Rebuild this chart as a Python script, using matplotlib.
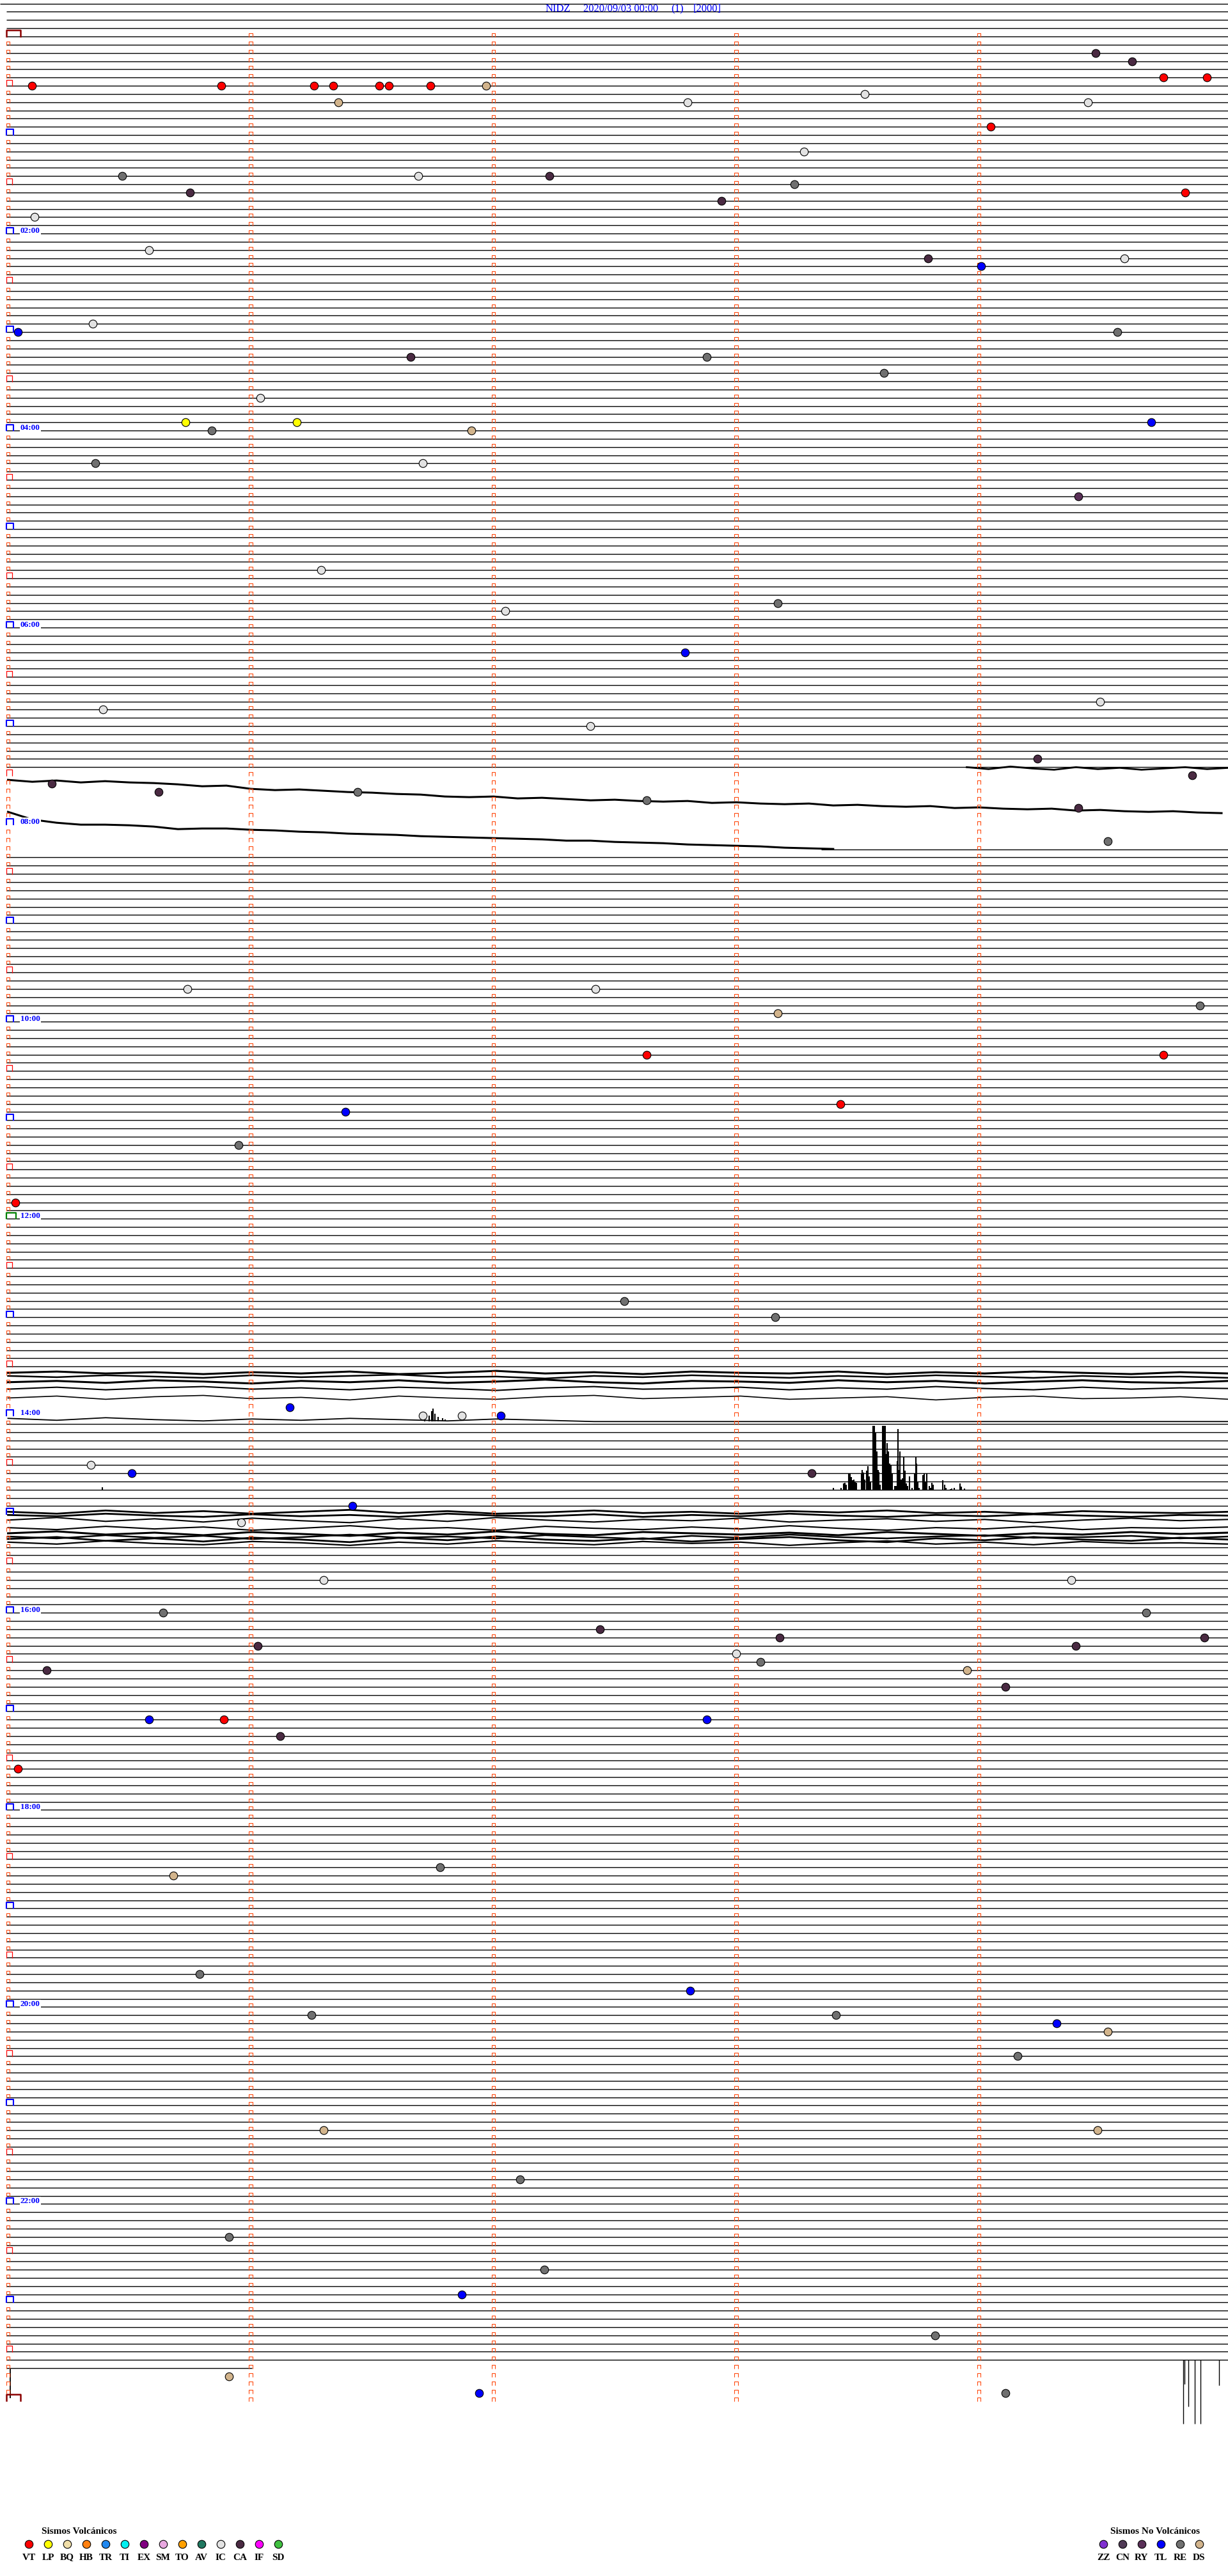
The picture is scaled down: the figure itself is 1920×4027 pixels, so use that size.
############################################### Import modules #########################################################
import matplotlib
matplotlib.use('Agg')
import matplotlib.pyplot as plt
from matplotlib.collections import LineCollection
import numpy as np

############################################### Drum geometry ##########################################################
W, H, DPI = 1920, 4027, 100
X0, COL = 12.5, 379.5     # pixel of minute 0, pixels per minute
Y0, ROW = 57.0, 12.835    # pixel of the 00:00 row, pixels per 5-minute row
px = 1 / COL              # one pixel along x, in minutes
py = 1 / ROW              # one pixel along y, in rows
SERIF = ['Liberation Serif', 'DejaVu Serif']
LW = 1.0                  # flat drum line width

############################################### Data ###################################################################
station = 'NIDZ'
start_label = '2020/09/03 00:00'
channel_label = '(1)'
scale_label = '[2000]'

last_row = 284            # 23:40, still being recorded
last_row_end = 1.005      # minutes drawn in the last row

# events: row (5-min line from 00:00), minute inside the row, type
ev_row = [2, 3, 5, 5, 6, 6, 6, 6, 6, 6, 6, 6, 7, 8, 8, 8, 11, 14, 17, 17, 17, 18, 19, 19, 20, 22, 26, 27, 27, 28,
          35, 36, 36, 39, 39, 41, 44, 47, 47, 47, 48, 48, 52, 52, 56, 65, 69, 70, 75, 81, 82, 84, 88, 90, 91, 92,
          92, 93, 94, 98, 116, 116, 118, 119, 124, 124, 130, 131, 135, 142, 154, 156, 167, 168, 168, 168, 174,
          175, 175, 179, 181, 188, 188, 192, 192, 194, 195, 195, 196, 196, 197, 198, 199, 199, 201, 205, 205,
          205, 207, 211, 223, 224, 236, 238, 241, 241, 242, 243, 246, 255, 255, 261, 268, 272, 275, 280, 285,
          287, 287]
ev_min = [4.48, 4.63, 4.76, 4.94, 0.10, 0.88, 1.26, 1.34, 1.53, 1.57, 1.74, 1.97, 3.53, 1.36, 2.80, 4.45, 4.05,
          3.28, 0.47, 1.69, 2.23, 3.24, 0.75, 4.85, 2.94, 0.11, 0.58, 3.79, 4.60, 4.01, 0.35, 0.04, 4.57, 1.66,
          2.88, 3.61, 1.04, 0.73, 1.19, 4.71, 0.84, 1.91, 0.36, 1.71, 4.41, 1.29, 3.17, 2.05, 2.79, 4.50, 0.39,
          2.40, 4.24, 4.88, 0.18, 0.62, 1.44, 2.63, 4.41, 4.53, 0.74, 2.42, 4.91, 3.17, 2.63, 4.76, 3.43, 1.39,
          0.95, 0.03, 2.54, 3.16, 1.16, 1.71, 1.87, 2.03, 0.34, 0.51, 3.31, 1.42, 0.96, 1.30, 4.38, 0.64, 4.69,
          2.44, 3.18, 4.93, 1.03, 4.40, 3.00, 3.10, 0.16, 3.95, 4.11, 0.58, 0.89, 2.88, 1.12, 0.04, 1.78, 0.68,
          0.79, 2.81, 1.25, 3.41, 4.32, 4.53, 4.16, 1.30, 4.49, 2.11, 0.91, 2.21, 1.87, 3.82, 0.91, 1.94, 4.11]
ev_type = ['CA', 'CA', 'VT', 'VT', 'VT', 'VT', 'VT', 'VT', 'VT', 'VT', 'VT', 'DS', 'IC', 'DS', 'IC', 'IC', 'VT',
           'IC', 'RE', 'IC', 'CA', 'RE', 'CA', 'VT', 'CA', 'IC', 'IC', 'CA', 'IC', 'TL', 'IC', 'TL', 'RE', 'CA',
           'RE', 'RE', 'IC', 'LP', 'LP', 'TL', 'RE', 'DS', 'RE', 'IC', 'RY', 'IC', 'RE', 'IC', 'TL', 'IC', 'IC',
           'IC', 'CA', 'CA', 'CA', 'CA', 'RE', 'RE', 'CA', 'RE', 'IC', 'IC', 'RE', 'DS', 'VT', 'VT', 'VT', 'TL',
           'RE', 'VT', 'RE', 'RE', 'TL', 'IC', 'IC', 'TL', 'IC', 'TL', 'CA', 'TL', 'IC', 'IC', 'IC', 'RE', 'RE',
           'CA', 'CA', 'CA', 'CA', 'CA', 'IC', 'RE', 'CA', 'DS', 'CA', 'TL', 'VT', 'TL', 'CA', 'VT', 'RE', 'DS',
           'RE', 'TL', 'RE', 'RE', 'TL', 'DS', 'RE', 'DS', 'DS', 'RE', 'RE', 'RE', 'TL', 'RE', 'DS', 'TL', 'RE']

volc_codes = ['VT', 'LP', 'BQ', 'HB', 'TR', 'TI', 'EX', 'SM', 'TO', 'AV', 'IC', 'CA', 'IF', 'SD']
volc_colors = ['#FF0000', '#FFFF00', '#F0DEA8', '#FF8010', '#2088F0', '#00F0F0', '#800080', '#E8A8E0',
               '#FFA000', '#207860', '#E2E2E2', '#4A2A42', '#FF00FF', '#40C040']
nonvolc_codes = ['ZZ', 'CN', 'RY', 'TL', 'RE', 'DS']
nonvolc_colors = ['#8030D0', '#503A55', '#5A3058', '#0000FF', '#707070', '#D2B48C']

# seismic bursts: minute inside the row and peak amplitude (drum pixels)
burst_row = 177
burst_min = [3.401, 3.433, 3.443, 3.448, 3.454, 3.465, 3.470, 3.474, 3.480, 3.486, 3.491, 3.496, 3.516, 3.519,
             3.524, 3.529, 3.538, 3.544, 3.547, 3.553, 3.564, 3.568, 3.574, 3.579, 3.584, 3.588, 3.593, 3.603,
             3.609, 3.614, 3.617, 3.623, 3.628, 3.633, 3.638, 3.644, 3.653, 3.658, 3.663, 3.667, 3.670, 3.674,
             3.679, 3.684, 3.691, 3.695, 3.700, 3.705, 3.714, 3.725, 3.735, 3.740, 3.744, 3.749, 3.753, 3.769,
             3.774, 3.779, 3.786, 3.797, 3.802, 3.807, 3.812, 3.851, 3.858, 3.863, 3.883, 3.888, 3.899, 3.923,
             3.928, 3.941, 0.389]
burst_amp = [2.7, 2.7, 9.3, 11, 7.7, 24.3, 26, 19.3, 14.3, 16, 12.7, 11, 24.3, 31, 26.7, 16, 29.3, 37, 21, 12.7,
             100, 100, 89.3, 59.3, 31, 27.7, 7.7, 99.3, 100, 100, 56, 72.7, 59.3, 41, 37.7, 26, 5.3, 5.3, 44.3,
             94.3, 31, 59.3, 16, 17.7, 51, 29.3, 9.3, 6, 21, 2.7, 26, 51, 41, 12.7, 2.7, 22.7, 26, 12.7, 24.3, 6,
             2.7, 11, 7.7, 14.3, 7.7, 2.7, 1, 1.7, 2.7, 10, 4.3, 2, 4]

spike14_min = [1.718, 1.735, 1.745, 1.752, 1.760, 1.771, 1.790, 1.800]
spike14_amp = [4, 9, 16, 20, 12, 7, 5, 3]

tail_row = 283
tail_min = [4.841, 4.847, 4.863, 4.889, 4.913, 4.990]
tail_amp = [-100, -38, -73, -100, -100, -40]

# disturbed rows: offsets (drum pixels) sampled evenly from start to end minute
trace_a = [7, 10, 8, 11, 9, 11, 12, 14, 17, 16, 21, 23, 22, 24, 26, 27, 29, 30, 33, 34, 33, 36, 35, 37, 39, 38,
           40, 41, 40, 43, 42, 44, 45, 44, 47, 46, 48, 49, 48, 51, 50, 52, 53, 52, 55, 54, 56, 57, 56, 58, 59]
trace_b = [-20, -8, -3, 0, 0, 1, 3, 7, 6, 6, 8, 9, 11, 12, 14, 15, 16, 18, 19, 20, 21, 22, 23, 25, 25, 27, 28,
           29, 31, 32, 33, 34, 36, 37, 38]
trace_89 = [0, 3, -1, 2, 4, 0, 3, 1, 4, 2, 0, 3, 1]
r163 = [-3, -5, -2, -4, -1, -4, -2, -5, -1, -3, -6, -2, -4, -1, -5, -3, -2, -5, -1, -4, -2, -5, -3, -1, -4, -2]
r164 = [-11, -9, -12, -10, -8, -12, -9, -11, -13, -9, -10, -7, -11, -9, -12, -10, -8, -11, -9, -12, -10, -8,
        -11, -9, -10, -8]
r165 = [-14, -16, -13, -17, -15, -12, -16, -14, -17, -13, -15, -18, -14, -12, -16, -15, -13, -17, -14, -16,
        -12, -15, -17, -14, -13, -16]
r166 = [-16, -19, -15, -18, -20, -16, -18, -15, -19, -17, -14, -18, -20, -16, -17, -19, -15, -18, -16, -20,
        -17, -15, -19, -16, -18, -17]
r167 = [-15, -18, -13, -17, -19, -14, -16, -12, -18, -15, -13, -17, -19, -14, -16, -18, -13, -15, -17, -12,
        -16, -18, -14, -15, -17, -13]
r168 = [4, 7, 3, 6, 8, 5, 7, 4, 6, 8, 5, 7, 9, 9, 9, 9, 9, 9, 9, 9, 9, 9, 9, 9, 9, 9]
r180a = [-4, -1, -6, -2, -5, -1, -4, -7, -2, -5, -1, -3, -6, -2, -4, -1, -5, -3, -6, -2, -4, -1, -5, -3, -2, -4]
r180b = [1, 3, -1, 2, 4, 0, 3, 1, 4, -1, 2, 3, 0, 4, 1, 3, -1, 2, 4, 1, 3, 0, 2, 4, 1, 2]
r180c = [9, 5, 11, 7, 12, 6, 10, 13, 7, 11, 5, 9, 12, 8, 10, 6, 12, 9, 7, 11, 8, 13, 9, 6, 10, 8]
r181 = [8, 11, 6, 10, 7, 12, 9, 5, 10, 8, 12, 6, 9, 11, 7, 10, 5, 9, 12, 8, 10, 6, 11, 8, 9, 7]
r182a = [4, 1, 6, 3, 7, 2, 5, 8, 3, 6, 1, 5, 7, 2, 4, 6, 3, 7, 2, 5, 8, 4, 6, 2, 5, 3]
r182b = [9, 12, 7, 11, 8, 13, 10, 6, 11, 9, 12, 7, 10, 13, 8, 11, 6, 10, 12, 9, 7, 11, 10, 8, 12, 9]
r183a = [0, -3, 3, -1, 4, -2, 1, 5, -2, 2, -4, 1, 3, -1, 4, 0, -3, 2, 5, -1, 2, -3, 1, 3, -2, 1]
r183b = [5, 8, 3, 7, 9, 4, 6, 10, 5, 8, 3, 6, 9, 4, 7, 5, 10, 6, 3, 8, 5, 9, 4, 7, 6, 8]

traces = [  # row, start minute, end minute, offsets, width
    (90, 0.0, 5.0, trace_a, 2.2), (96, 0.0, 3.4, trace_b, 2.2), (89, 3.95, 5.03, trace_89, 2.0),
    (163, 0.0, 5.03, r163, 2.2), (164, 0.0, 5.03, r164, 1.8), (165, 0.0, 5.03, r165, 2.2),
    (166, 0.0, 5.03, r166, 1.5), (167, 0.0, 5.03, r167, 1.2), (168, 0.0, 5.03, r168, 1.3),
    (180, 0.0, 5.03, r180a, 2.0), (180, 0.0, 5.03, r180b, 2.0), (180, 0.0, 5.03, r180c, 1.5),
    (181, 0.0, 5.03, r181, 1.5), (182, 0.0, 5.03, r182a, 2.2), (182, 0.0, 5.03, r182b, 1.8),
    (183, 0.0, 5.03, r183a, 2.0), (183, 0.0, 5.03, r183b, 1.6),
]
no_flat_rows = set(range(90, 99)) | set(range(163, 169)) | set(range(180, 184))
partial_rows = {99: 3.35}    # row 99 only drawn after this minute

############################################### Figure #################################################################
fig = plt.figure(figsize=(W / DPI, H / DPI), dpi=DPI)
ax = fig.add_axes([0, 0, 1, 1])
ax.set_xlim(-X0 * px, (W - X0) * px)
ax.set_ylim((H - Y0) * py, -Y0 * py)
ax.axis('off')

############################################### Flat lines #############################################################
x_left, x_right = -2.5 * px, (W - X0 + 5) * px
flat = dict(color='black', lw=LW)
ax.hlines(-4, -X0 * px, x_right, **flat)
rows = [r for r in range(-3, last_row) if r not in no_flat_rows and r not in partial_rows]
ax.hlines(rows, x_left, x_right, **flat)
for r, m in partial_rows.items():
    ax.hlines(r, m, x_right, **flat)
ax.hlines(last_row, x_left, last_row_end, **flat)
ax.vlines(3.5 * px, last_row, 287.66, color='black', lw=1.3)

############################################### Disturbed traces #######################################################
for r, m0, m1, off, w in traces:
    xs = np.linspace(m0, m1, len(off))
    ax.plot(xs, r + np.array(off) * py, color='black', lw=w, solid_joinstyle='round', zorder=3)

ax.vlines(burst_min, burst_row, burst_row - np.array(burst_amp) * py, color='black', lw=1.5, zorder=3)
ax.vlines(spike14_min, 168 + 9 * py, 168 + (9 - np.array(spike14_amp)) * py, color='black', lw=1.5, zorder=3)
ax.vlines(tail_min, tail_row, tail_row - np.array(tail_amp) * py, color='black', lw=1.0, zorder=3)

############################################### Minute marks ###########################################################
def cap(xm, r, w, h, shift=0.0):
    x0 = xm + (shift - w / 2) * px
    x1 = xm + (shift + w / 2) * px
    return [(x0, r + 1 * py), (x0, r - h * py), (x1, r - h * py), (x1, r + 1 * py)]

small, halfh, hour_b, hour_g, day_b = [], [], [], [], []
for r in range(0, 289):
    for k in range(1, 5):
        small.append(cap(k, r, 5.5, 5))
    if r in (0, 288):
        day_b.append(cap(0, r, 22, 10, 8.5))
    elif r == 144:
        hour_g.append(cap(0, r, 15, 9, 4.5))
    elif r % 12 == 0:
        hour_b.append(cap(0, r, 11, 9, 2.5))
    elif r % 12 == 6:
        halfh.append(cap(0, r, 9, 9, 2))
    else:
        small.append(cap(0, r, 5.5, 5))
ax.add_collection(LineCollection(small, colors='#FF4A10', lw=0.8, zorder=4))
ax.add_collection(LineCollection(halfh, colors='#FF0000', lw=0.9, zorder=4))
ax.add_collection(LineCollection(hour_b, colors='#0000FF', lw=1.5, zorder=4))
ax.add_collection(LineCollection(hour_g, colors='#008000', lw=1.6, zorder=4))
ax.add_collection(LineCollection(day_b, colors='#8B0000', lw=1.8, zorder=4))

for h in range(2, 24, 2):
    ax.text(19.5 * px, h * 12 - 4.5 * py, f'{h:02d}:00', color='#0000FF', fontsize=9.5, fontweight='bold',
            family=SERIF, ha='left', va='center', zorder=5,
            bbox=dict(boxstyle='square,pad=0.05', fc='white', ec='none'))

############################################### Events #################################################################
all_colors = dict(zip(volc_codes + nonvolc_codes, volc_colors + nonvolc_colors))
for r, m, t in zip(ev_row, ev_min, ev_type):
    ax.plot(m, r, 'o', ms=9, mfc=all_colors[t], mec='black', mew=0.8, zorder=6)

############################################### Header and legend ######################################################
ov = fig.add_axes([0, 0, 1, 1], facecolor='none')
ov.set_xlim(0, W)
ov.set_ylim(H, 0)
ov.axis('off')
for s, x in zip([station, start_label, channel_label, scale_label], [853, 912, 1049, 1084]):
    ov.text(x, 14, s, color='#0000FF', fontsize=12, family=SERIF, ha='left', va='center')

ov.text(124, 3957, 'Sismos Volcánicos', fontsize=11, fontweight='bold', family=SERIF, ha='center', va='center')
for i, (c, col) in enumerate(zip(volc_codes, volc_colors)):
    ov.plot(45 + 30 * i, 3977, 'o', ms=9, mfc=col, mec='black', mew=0.8)
    ov.text(45 + 30 * i, 3998, c, fontsize=11, fontweight='bold', family=SERIF, ha='center', va='center')
ov.text(1806, 3957, 'Sismos No Volcánicos', fontsize=11, fontweight='bold', family=SERIF, ha='center', va='center')
for i, (c, col) in enumerate(zip(nonvolc_codes, nonvolc_colors)):
    ov.plot(1725 + 30 * i, 3977, 'o', ms=9, mfc=col, mec='black', mew=0.8)
    ov.text(1725 + 30 * i, 3998, c, fontsize=11, fontweight='bold', family=SERIF, ha='center', va='center')

fig.savefig('out.png', dpi=DPI)
